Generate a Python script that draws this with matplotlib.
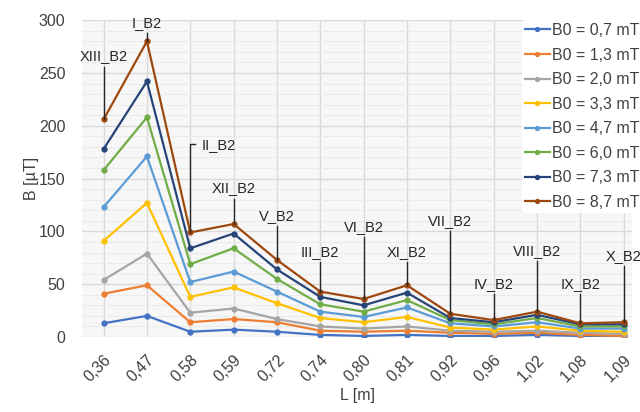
import matplotlib
matplotlib.use("Agg")
import matplotlib.pyplot as plt
from matplotlib.ticker import MultipleLocator

plt.rcParams['font.family'] = ['Liberation Sans', 'DejaVu Sans']

# Data
lengths = ["0,36", "0,47", "0,58", "0,59", "0,72", "0,74", "0,80",
           "0,81", "0,92", "0,96", "1,02", "1,08", "1,09"]
series_names = ["B0 = 0,7 mT", "B0 = 1,3 mT", "B0 = 2,0 mT", "B0 = 3,3 mT",
                "B0 = 4,7 mT", "B0 = 6,0 mT", "B0 = 7,3 mT", "B0 = 8,7 mT"]
b_07 = [13, 20, 5, 7, 5, 2, 1, 2, 1, 1, 2, 1, 1]
b_13 = [41, 49, 14, 17, 14, 6, 5, 6, 4, 3, 4, 2, 1]
b_20 = [54, 79, 23, 27, 17, 10, 8, 10, 6, 5, 6, 4, 3]
b_33 = [91, 127, 38, 47, 32, 18, 14, 19, 9, 7, 10, 6, 5]
b_47 = [123, 171, 52, 62, 43, 24, 19, 28, 13, 10, 14, 8, 8]
b_60 = [158, 208, 69, 84, 55, 31, 24, 35, 16, 12, 18, 10, 10]
b_73 = [178, 242, 84, 98, 64, 38, 30, 42, 18, 14, 21, 12, 12]
b_87 = [206, 280, 99, 107, 73, 43, 36, 49, 22, 16, 24, 13, 14]
series = [b_07, b_13, b_20, b_33, b_47, b_60, b_73, b_87]
colors = ["#4472C4", "#ED7D31", "#A5A5A5", "#FFC000",
          "#5B9BD5", "#70AD47", "#264478", "#9E480E"]

# measurement point labels, one per category, and the height of their text
point_labels = ["XIII_B2", "I_B2", "II_B2", "XII_B2", "V_B2", "III_B2", "VI_B2",
                "XI_B2", "VII_B2", "IV_B2", "VIII_B2", "IX_B2", "X_B2"]
label_heights = [259, 291, 182, 134, 108, 74, 98, 74, 103, 44, 75, 44, 70]

fig = plt.figure(figsize=(6.4, 4.12), dpi=100)
ax = fig.add_axes([0.128, 0.182, 0.86, 0.769])
ax.set_facecolor("#f7f7f7")

x = list(range(len(lengths)))
for vals, name, c in zip(series, series_names, colors):
    ax.plot(x, vals, color=c, lw=1.6, marker='o', markersize=3.5, label=name, zorder=3)

top = series[-1]
for i, (lab, h) in enumerate(zip(point_labels, label_heights)):
    if lab == "II_B2":
        ax.plot([i, i, i + 0.1], [top[i], h + 1, h + 1], color="#262626", lw=1, zorder=4)
        ax.text(i + 0.27, h, lab, ha='left', va='center', fontsize=10.5, color="#262626")
    else:
        ax.plot([i, i], [top[i], h - 3], color="#262626", lw=1, zorder=4)
        ax.text(i, h, lab, ha='center', va='bottom', fontsize=10.5, color="#262626")

ax.set_xlim(-0.5, 12.2)
ax.set_ylim(0, 300)
ax.set_xticks(x)
ax.set_xticklabels(lengths, rotation=45, ha='right', rotation_mode='anchor')
ax.yaxis.set_major_locator(MultipleLocator(50))
ax.yaxis.set_minor_locator(MultipleLocator(10))
ax.grid(True, which='major', color="#d9d9d9", lw=1, zorder=0)
ax.grid(True, which='minor', axis='y', color="#ebebeb", lw=0.8, zorder=0)
ax.set_axisbelow(True)
ax.tick_params(axis='both', which='both', length=0, labelsize=11.5, colors="#404040")
ax.tick_params(axis='y', pad=12)
ax.tick_params(axis='x', pad=11)
for s in ax.spines.values():
    s.set_visible(False)

ax.set_xlabel("L [m]", fontsize=11.5, color="#404040", labelpad=2)
ax.set_ylabel("B [µT]", fontsize=11.5, color="#404040", labelpad=0)

leg = ax.legend(loc='upper right', bbox_to_anchor=(1.004, 0.952), bbox_transform=fig.transFigure,
                fontsize=11.5, frameon=True, facecolor='white', edgecolor='none', framealpha=1,
                handlelength=1.6, handletextpad=0.1, labelspacing=0.6, borderpad=0.2,
                borderaxespad=0, markerscale=0.8)
for t in leg.get_texts():
    t.set_color("#404040")

fig.savefig("out.png", dpi=100)
